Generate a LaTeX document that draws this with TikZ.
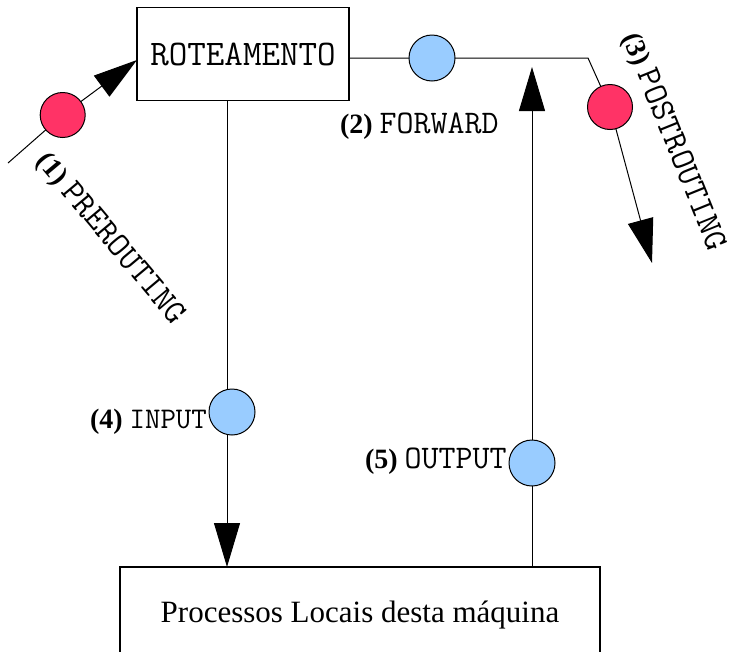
\documentclass[tikz,border=0pt]{standalone}
\usepackage{fontspec}
\setmainfont{Liberation Serif}
\newfontfamily\lmmono{Latin Modern Mono}
\usetikzlibrary{arrows.meta}
\definecolor{pktred}{RGB}{255,51,102}
\definecolor{pktblue}{RGB}{153,204,255}
\newcommand\numf{\fontsize{28}{30}\selectfont\bfseries}
\newcommand\labf{\fontsize{33}{36}\selectfont\lmmono\mdseries}
\newcommand\slabf{\fontsize{30}{34}\selectfont\lmmono\mdseries}
\newcommand\rlabf{\fontsize{34}{38}\selectfont\lmmono\mdseries}
\begin{document}
\begin{tikzpicture}[x=1pt,y=-1pt,
  every node/.style={inner sep=0pt, outer sep=0pt},
  box/.style={draw, line width=1.1pt, rectangle},
  redc/.style={circle, draw, line width=1pt, fill=pktred, minimum size=45pt},
  bluec/.style={circle, draw, line width=1pt, fill=pktblue, minimum size=46pt},
  wire/.style={line width=1pt},
  arr/.style={wire, -{Triangle[length=44pt,width=26pt]}}]
\useasboundingbox (0,0) rectangle (730,651);
\clip (0,0) rectangle (730,651);
% boxes
\node[box, minimum width=212pt, minimum height=93pt,
      font=\fontsize{36}{40}\selectfont\lmmono] (rot) at (243,54) {ROTEAMENTO};
\node[box, minimum width=480pt, minimum height=96pt,
      font=\fontsize{31}{36}\selectfont] (proc) at (360,615) {Processos Locais desta máquina};
% hook circles
\node[redc]  (c1) at (62.7,115) {};
\node[bluec] (c2) at (432,58) {};
\node[redc]  (c3) at (610,107) {};
\node[bluec] (c4) at (232,412) {};
\node[bluec] (c5) at (532,463) {};
% helper coordinates
\coordinate (s1) at (8,163);
\coordinate (t1) at (137,60);
\coordinate (k3) at (588,58);
\coordinate (t3) at (652,263);
\coordinate (x4) at (227,0);
\coordinate (t5) at (0,67);
% connectors
\draw[wire] (s1) -- (c1);
\draw[arr] (c1) -- (t1);
\draw[wire] (rot.east |- c2) -- (c2) -- (k3) -- (c3);
\draw[arr] (c3) -- (t3);
\draw[wire] (rot.south -| x4) -- (x4 |- c4.north);
\draw[arr] (x4 |- c4.south) -- (x4 |- proc.north);
\draw[wire] (c5 |- proc.north) -- (c5.south);
\draw[arr] (c5.north) -- (c5 |- t5);
% labels
\node[anchor=base west] (l2) at (340,133) {\numf(2) \labf FORWARD};
\node[anchor=base west] (l4) at (90,428) {\numf(4) \slabf INPUT};
\node[anchor=base west] (l5) at (365,468) {\numf(5) \labf OUTPUT};
\node[rotate=-50] (l1) at (110,239) {\numf(1) \rlabf PREROUTING};
\node[rotate=-68] (l3) at (673,142) {\numf(3) \rlabf POSTROUTING};
\end{tikzpicture}
\end{document}
